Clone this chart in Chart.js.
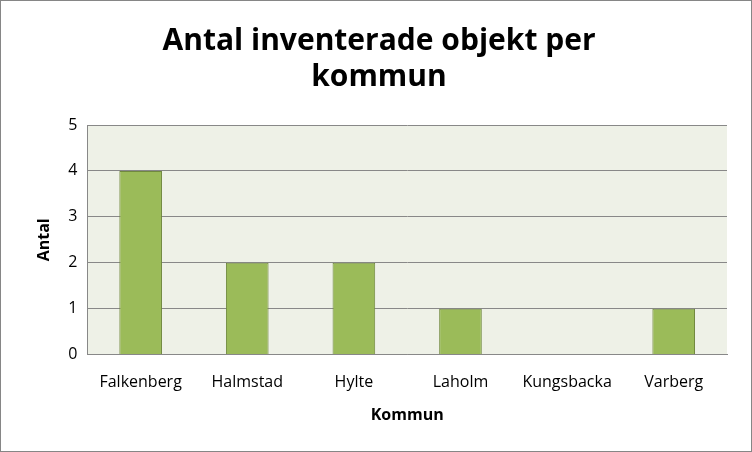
<!DOCTYPE html>
<html>
<head>
<meta charset="utf-8">
<script src="https://cdn.jsdelivr.net/npm/chart.js@4/dist/chart.umd.min.js"></script>
<style>
  html, body { margin: 0; padding: 0; background: #fff; }
  #wrap { width: 750px; height: 450px; border: 1px solid #868686; }
</style>
</head>
<body>
<div id="wrap"><canvas id="chart" width="750" height="450"></canvas></div>
<script>
// Data
const kommuner = ['Falkenberg', 'Halmstad', 'Hylte', 'Laholm', 'Kungsbacka', 'Varberg'];
const antal = [4, 2, 2, 1, 0, 1];

// Bakgrund för plottytan
const plotBg = {
    id: 'plotBg',
    beforeDraw(chart) {
        const { ctx, chartArea: a } = chart;
        ctx.save();
        ctx.fillStyle = '#EEF1E7';
        ctx.fillRect(a.left, a.top, a.right - a.left, a.bottom - a.top);
        ctx.restore();
    }
};

new Chart(document.getElementById('chart'), {
    type: 'bar',
    data: {
        labels: kommuner,
        datasets: [{
            label: 'Antal',
            data: antal,
            backgroundColor: '#9BBB59',
            borderColor: '#71893F',
            borderWidth: 1,
            barPercentage: 0.4,
            categoryPercentage: 1
        }]
    },
    options: {
        responsive: false,
        animation: false,
        layout: { padding: { left: 30, right: 24, top: 22, bottom: 22 } },
        plugins: {
            legend: { display: false },
            tooltip: { enabled: false },
            title: {
                display: true,
                text: ['Antal inventerade objekt per', 'kommun'],
                color: '#000',
                font: { family: 'Open Sans', size: 30, weight: 'bold' },
                lineHeight: 1.45,
                padding: { top: 0, bottom: 30 }
            }
        },
        scales: {
            y: {
                min: 0, max: 5,
                ticks: { stepSize: 1, color: '#000', font: { family: 'Open Sans', size: 16 }, padding: 10 },
                grid: { color: '#888', drawTicks: false },
                border: { color: '#888' },
                title: { display: true, text: 'Antal', color: '#000', font: { family: 'Open Sans', size: 16, weight: 'bold' } }
            },
            x: {
                ticks: { color: '#000', font: { family: 'Open Sans', size: 16 }, padding: 10 },
                grid: { display: false },
                border: { color: '#888' },
                title: { display: true, text: 'Kommun', color: '#000', font: { family: 'Open Sans', size: 16, weight: 'bold' }, padding: { top: 4 } }
            }
        }
    },
    plugins: [plotBg]
});
</script>
</body>
</html>
